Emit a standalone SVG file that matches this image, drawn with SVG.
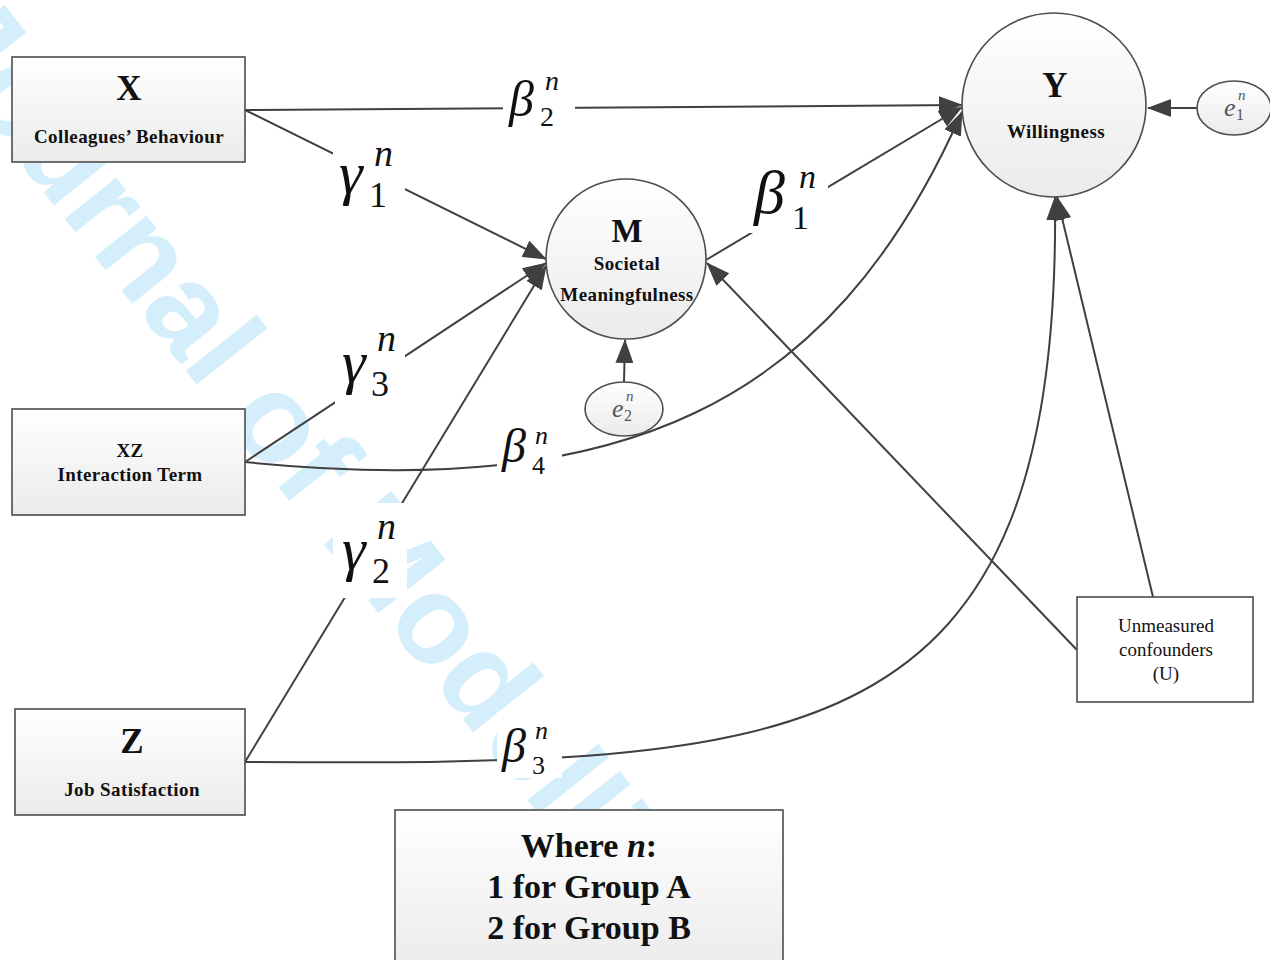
<svg xmlns="http://www.w3.org/2000/svg" width="1270" height="960" viewBox="0 0 1270 960">
<defs>
<linearGradient id="g" x1="0" y1="0" x2="0" y2="1"><stop offset="0" stop-color="#ffffff"/><stop offset="1" stop-color="#ebebeb"/></linearGradient>
<marker id="ah" markerUnits="userSpaceOnUse" markerWidth="24" markerHeight="18" refX="23" refY="9" orient="auto"><path d="M0,0 L24,9 L0,18 z" fill="#404040"/></marker>
</defs>
<style>
.wm{font-family:"Liberation Sans",Arial,sans-serif;font-weight:bold;font-size:125px;fill:#d4eefb}
.node{fill:url(#g);stroke:#4d4d4d;stroke-width:1.6}
.plain{fill:#fff;stroke:#4d4d4d;stroke-width:1.6}
.conn{fill:none;stroke:#404040;stroke-width:2;marker-end:url(#ah)}
.t{font-family:"Liberation Serif","Times New Roman",serif;font-weight:bold;fill:#111;text-anchor:middle}
.big{font-size:35px}
.lab{font-size:19px;letter-spacing:0.4px}
.reg{font-family:"Liberation Serif","Times New Roman",serif;font-size:19px;fill:#111;text-anchor:middle}
.sym{font-family:"Liberation Serif","Times New Roman",serif;font-style:italic;fill:#111}
.idx{font-family:"Liberation Serif","Times New Roman",serif;fill:#111}
.err{font-family:"Liberation Serif","Times New Roman",serif;fill:#555}
.bg{fill:#fff}
.leg{font-family:"Liberation Serif","Times New Roman",serif;font-weight:bold;font-size:34px;fill:#111;text-anchor:middle}
</style>
<rect width="1270" height="960" fill="#fff"/>
<text class="wm" transform="translate(-79,38) rotate(51.5)">Journal of Modelling in Management</text>

<g id="connectors">
<path class="conn" d="M245,110 L962,105"/>
<path class="conn" d="M245,110 L546,259"/>
<path class="conn" d="M245,462 L546,263"/>
<path class="conn" d="M245,762 L546,266"/>
<path class="conn" d="M245,462 C620,500 830,410 962,112"/>
<path class="conn" d="M245,762 C800,765 1062,760 1055,197"/>
<path class="conn" d="M706,260 L962,107"/>
<path class="conn" d="M1077,650 L707,263"/>
<path class="conn" d="M1153,597 L1057,197"/>
<path class="conn" d="M1197,108 L1148,108"/>
<path class="conn" d="M624,382 L625,340"/>
</g>

<g id="labels">
<g id="lab-b2"><rect class="bg" x="503" y="70" width="72" height="62"/>
<text class="sym" x="509" y="116" font-size="50">β</text><text class="sym" x="545" y="90" font-size="28">n</text><text class="idx" x="540" y="126" font-size="28">2</text></g>
<g id="lab-g1"><rect class="bg" x="333" y="140" width="72" height="75"/>
<text class="sym" x="339" y="193" font-size="60">γ</text><text class="sym" x="374" y="166" font-size="38">n</text><text class="idx" x="369" y="207" font-size="36">1</text></g>
<g id="lab-g3"><rect class="bg" x="335" y="325" width="70" height="80"/>
<text class="sym" x="342" y="382" font-size="60">γ</text><text class="sym" x="377" y="351" font-size="38">n</text><text class="idx" x="371" y="396" font-size="36">3</text></g>
<g id="lab-g2"><rect class="bg" x="333" y="503" width="74" height="95"/>
<text class="sym" x="342" y="569" font-size="60">γ</text><text class="sym" x="377" y="539" font-size="38">n</text><text class="idx" x="372" y="583" font-size="36">2</text></g>
<g id="lab-b1"><rect class="bg" x="748" y="160" width="80" height="73"/>
<text class="sym" x="754" y="213" font-size="62">β</text><text class="sym" x="799" y="188" font-size="34">n</text><text class="idx" x="792" y="229" font-size="34">1</text></g>
<g id="lab-b4"><rect class="bg" x="497" y="418" width="65" height="60"/>
<text class="sym" x="502" y="462" font-size="48">β</text><text class="sym" x="535" y="444" font-size="26">n</text><text class="idx" x="532" y="474" font-size="26">4</text></g>
<g id="lab-b3"><rect class="bg" x="497" y="712" width="65" height="66"/>
<text class="sym" x="502" y="762" font-size="48">β</text><text class="sym" x="535" y="739" font-size="26">n</text><text class="idx" x="532" y="774" font-size="26">3</text></g>
</g>

<g id="node-X"><rect class="node" x="12" y="57" width="233" height="105"/>
<text class="t big" x="129" y="100">X</text><text class="t lab" x="129" y="143">Colleagues’ Behaviour</text></g>
<g id="node-XZ"><rect class="node" x="12" y="409" width="233" height="106"/>
<text class="t lab" x="130" y="457">XZ</text><text class="t lab" x="130" y="481">Interaction Term</text></g>
<g id="node-Z"><rect class="node" x="15" y="709" width="230" height="106"/>
<text class="t big" x="132" y="753">Z</text><text class="t lab" x="132" y="796">Job Satisfaction</text></g>
<g id="node-M"><circle class="node" cx="626" cy="259" r="80"/>
<text class="t" x="627" y="242" font-size="33">M</text><text class="t lab" x="627" y="270">Societal</text><text class="t lab" x="627" y="301">Meaningfulness</text></g>
<g id="node-Y"><circle class="node" cx="1054" cy="105" r="92"/>
<text class="t big" x="1055" y="97">Y</text><text class="t lab" x="1056" y="138">Willingness</text></g>
<g id="node-e1"><ellipse class="node" cx="1234" cy="108" rx="37" ry="27"/>
<text class="err" x="1224" y="116" font-size="26" font-style="italic">e</text><text class="err" x="1238" y="100" font-size="15" font-style="italic">n</text><text class="err" x="1236" y="120" font-size="16">1</text></g>
<g id="node-e2"><ellipse class="node" cx="624" cy="409" rx="39" ry="27"/>
<text class="err" x="612" y="417" font-size="26" font-style="italic">e</text><text class="err" x="626" y="401" font-size="15" font-style="italic">n</text><text class="err" x="624" y="421" font-size="16">2</text></g>
<g id="node-U"><rect class="plain" x="1077" y="597" width="176" height="105"/>
<text class="reg" x="1166" y="632">Unmeasured</text><text class="reg" x="1166" y="656">confounders</text><text class="reg" x="1166" y="680">(U)</text></g>
<g id="legend"><rect class="node" x="395" y="810" width="388" height="160"/>
<text class="leg" x="589" y="857">Where <tspan font-style="italic">n</tspan>:</text>
<text class="leg" x="589" y="898">1 for Group A</text>
<text class="leg" x="589" y="939">2 for Group B</text></g>
</svg>
